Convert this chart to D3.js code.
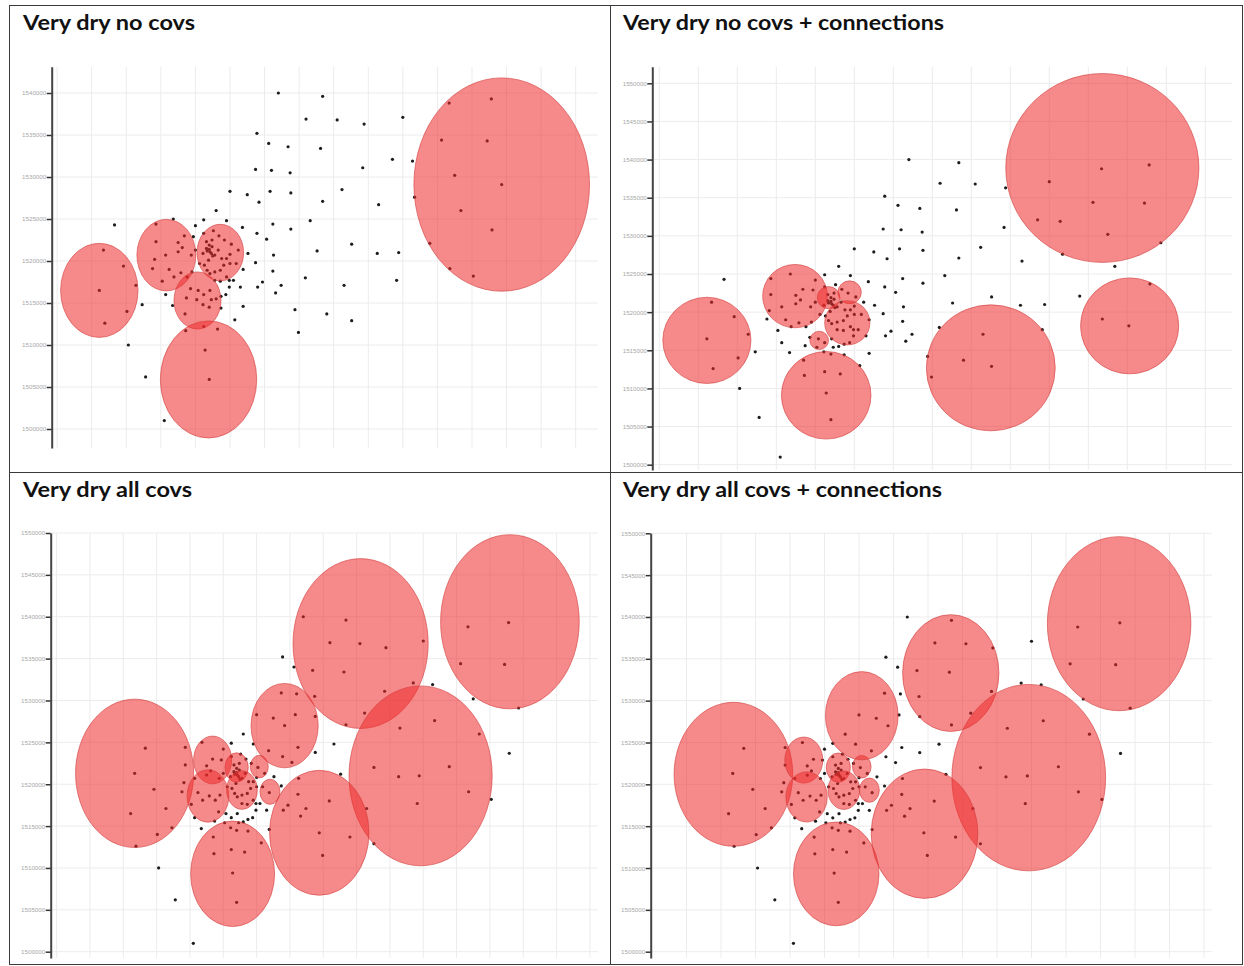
<!DOCTYPE html>
<html>
<head>
<meta charset="utf-8">
<script src="https://cdn.jsdelivr.net/npm/d3@7"></script>
<style>
  body { margin: 0; background: #fff; }
  svg { display: block; }
</style>
</head>
<body>
<svg id="chart" width="1244" height="966"></svg>
<script>
// Plot locations (easting, northing in metres), shared by all four maps
const plots = [
  [327000,1540000],[333400,1539600],[331000,1536900],[335500,1536800],[339400,1536300],
  [345000,1537100],[323900,1535200],[325600,1534000],[328400,1533600],[333100,1533400],
  [343500,1532100],[346400,1531900],[339200,1531100],[323700,1530900],[326000,1530800],
  [328700,1530500],[320000,1528300],[322500,1527900],[325800,1528300],[328800,1528100],
  [324200,1527000],[333400,1527100],[336200,1528500],[341500,1526700],[346700,1527600],
  [318000,1526000],[316200,1524900],[319500,1524800],[311800,1525000],[315000,1524200],
  [303300,1524300],[326200,1524400],[328800,1523800],[331600,1524800],[321800,1524000],
  [323900,1523300],[325300,1522600],[332600,1521200],[337600,1522000],[341300,1520900],
  [344400,1521000],[322600,1520900],[323700,1519800],[326300,1520700],[326200,1518800],
  [324700,1517500],[324000,1516900],[321500,1516900],[321900,1519000],[327400,1517100],
  [326600,1516200],[330900,1518000],[336500,1517100],[344100,1517700],[329400,1514200],
  [334000,1513700],[337600,1512900],[329900,1511500],[321900,1514600],[320700,1513000],
  [307300,1514800],[305300,1510000],[307800,1506200],[310500,1501000],[316400,1509400],
  [317000,1505900],[313600,1511700],[316200,1512200],[318200,1511900],[313500,1513700],
  [311700,1514700],[310700,1516000],[301700,1521300],[304600,1519400],[306400,1517100],
  [301100,1516500],[305100,1514000],[301900,1512600],[309300,1524400],[309300,1522300],
  [310700,1520700],[309100,1520200],[308800,1519100],[311200,1519000],[312500,1521100],
  [313100,1521600],[313400,1523000],[310200,1517600],[311900,1518100],[312900,1518600],
  [313800,1518100],[314500,1518700],[314400,1520700],[315000,1521300],[314700,1522900],
  [312500,1522200],[316200,1523300],[317600,1523600],[318400,1523000],[319200,1522500],
  [320200,1522000],[321200,1521300],[320000,1520800],[320900,1519700],[320000,1519700],
  [319100,1519500],[318600,1518900],[317800,1518700],[317100,1518500],[316700,1518900],
  [316300,1519500],[315600,1519700],[316100,1520900],[316600,1521500],[317000,1521900],
  [317300,1520900],[316900,1520100],[317800,1520700],[318300,1521300],[318800,1520300],
  [319500,1520300],[317400,1522500],[316600,1522300],[317800,1517700],[318600,1517600],
  [319500,1518100],[319900,1517700],[320500,1517700],[317000,1521400],[317400,1521700],
  [317100,1521100],[316700,1521200],[317500,1520600],[319900,1516900],[319400,1516000],
  [318700,1515800],[317100,1516500],[315400,1516500],[314300,1516700],[313700,1515600],
  [315200,1515400],[316200,1516000],[317300,1515400],[318000,1515500],[316100,1514800],
  [317000,1514500],[318700,1514400],[351700,1538800],[357800,1539300],[350600,1534400],
  [357200,1534300],[352500,1530200],[359300,1529100],[353400,1526000],[357900,1523700],
  [348900,1522100],[351800,1519100],[355200,1518200]
];

// Cluster circles: [centre easting, centre northing, radius] in metres
const clustersNoCovs = [
  [301100,1516500,5600],[310800,1520700,4260],[318600,1521000,3370],
  [315300,1515300,3400],[316900,1505900,6970],[359300,1529100,12700]
];
const clustersNoCovsConn = [
  [301100,1516300,5650],[312400,1522100,4150],[319400,1522600,1500],
  [316700,1521900,1450],[319100,1518600,2900],[315500,1516300,1200],
  [316400,1509100,5740],[337500,1512700,8260],[351800,1538900,12380],
  [355300,1518200,6290]
];
const clustersAllCovs = [
  [301700,1521300,8860],[313400,1522900,2850],[312700,1518600,3130],
  [317000,1522000,1750],[320400,1522100,1350],[322000,1519100,1500],
  [317800,1519300,2300],[324200,1527000,5040],[335600,1536800,10140],
  [358000,1539400,10400],[344600,1521000,10740],[329400,1514200,7460],
  [316400,1509300,6300]
];
const clustersAllCovsConn = [
  [301800,1521200,8600],[312000,1522900,2750],[312400,1518500,3000],
  [317000,1522000,1750],[320400,1522100,1350],[321500,1519300,1450],
  [317800,1519300,2300],[320400,1528200,5270],[333300,1533300,6980],
  [357700,1539200,10400],[344600,1520800,11140],[329500,1514100,7730],
  [316700,1509300,6200]
];

const northingTicks = [1500000,1505000,1510000,1515000,1520000,1525000,1530000,1535000,1540000,1545000,1550000];
const panelTitles = ["Very dry no covs", "Very dry no covs + connections", "Very dry all covs", "Very dry all covs + connections"];
const gridStep = 5000;

// Layout of the four cells of the table
const panels = [
  { title: panelTitles[0], clusters: clustersNoCovs, tx: 23, ty: 30, tw: 172,
    axisX: 51.7, top: 66.7, bottom: 448, right: 598, maxTick: 1540000,
    yTopPx: 93, yBotPx: 429, gx0: 91.7, gdx: 34.57 },
  { title: panelTitles[1], clusters: clustersNoCovsConn, tx: 623, ty: 30, tw: 321,
    axisX: 652.3, top: 66.7, bottom: 470, right: 1232, maxTick: 1550000,
    yTopPx: 83.3, yBotPx: 464.7, gx0: 698.3, gdx: 39.0 },
  { title: panelTitles[2], clusters: clustersAllCovs, tx: 23, ty: 497, tw: 169,
    axisX: 50.7, top: 533, bottom: 958, right: 598, maxTick: 1550000,
    yTopPx: 533, yBotPx: 951.7, gx0: 123.3, gdx: 33.33 },
  { title: panelTitles[3], clusters: clustersAllCovsConn, tx: 623, ty: 497, tw: 319,
    axisX: 650.7, top: 533.3, bottom: 958, right: 1212, maxTick: 1550000,
    yTopPx: 533.3, yBotPx: 951.7, gx0: 721, gdx: 34.5 }
];

const svg = d3.select("#chart");
const eastOrigin = 300000;

panels.forEach(p => {
  const g = svg.append("g");

  const y0 = d3.scaleLinear().domain([1500000, p.maxTick]).range([p.yBotPx, p.yTopPx]);
  const y = d3.scaleLinear().domain([y0.invert(p.bottom), y0.invert(p.top)]).range([p.bottom, p.top]);
  const x0 = d3.scaleLinear().domain([eastOrigin, eastOrigin + gridStep]).range([p.gx0, p.gx0 + p.gdx]);
  const x = d3.scaleLinear().domain([x0.invert(p.axisX), x0.invert(p.right)]).range([p.axisX, p.right]);

  const ticks = northingTicks.filter(t => t <= p.maxTick);
  const [xa, xb] = x.domain();
  const eastLines = d3.range(Math.ceil((xa - eastOrigin) / gridStep), Math.floor((xb - eastOrigin) / gridStep) + 1)
    .map(k => eastOrigin + k * gridStep)
    .filter(v => x(v) - p.axisX > 3);

  // grid
  const grid = g.append("g").attr("stroke", "#ececec").attr("stroke-width", 1);
  grid.selectAll("line.v").data(eastLines).join("line")
    .attr("x1", d => x(d)).attr("x2", d => x(d))
    .attr("y1", p.top).attr("y2", p.bottom);
  grid.selectAll("line.h").data(ticks).join("line")
    .attr("x1", p.axisX).attr("x2", p.right)
    .attr("y1", d => y(d)).attr("y2", d => y(d));

  // plot locations (under the cluster circles)
  g.append("g").selectAll("circle").data(plots).join("circle")
    .attr("cx", d => x(d[0])).attr("cy", d => y(d[1]))
    .attr("r", 1.6).attr("fill", "#1c1c1c");

  // cluster circles
  g.append("g").selectAll("ellipse").data(p.clusters).join("ellipse")
    .attr("cx", d => x(d[0])).attr("cy", d => y(d[1]))
    .attr("rx", d => x(d[0] + d[2]) - x(d[0]))
    .attr("ry", d => y(d[1] - d[2]) - y(d[1]))
    .attr("fill", "#ee2a2a").attr("fill-opacity", 0.55)
    .attr("stroke", "#d23c3c").attr("stroke-opacity", 0.6).attr("stroke-width", 1);

  // northing axis
  const axis = g.append("g")
    .attr("transform", `translate(${p.axisX},0)`)
    .call(d3.axisLeft(y).tickValues(ticks).tickSize(5).tickSizeOuter(0).tickFormat(d3.format("d")));
  axis.select(".domain").attr("stroke", "#444").attr("stroke-width", 2);
  axis.selectAll(".tick line").attr("stroke", "#333").attr("stroke-width", 1.5);
  axis.selectAll(".tick text").attr("fill", "#a8a8a8").attr("font-size", 6.2)
    .attr("font-family", "Liberation Sans, Arial, sans-serif").attr("x", -5.5);

  // title
  g.append("text").attr("x", p.tx).attr("y", p.ty)
    .attr("font-family", "Lato, 'Open Sans', sans-serif").attr("font-weight", 700)
    .attr("font-size", 20).attr("fill", "#111")
    .attr("textLength", p.tw).attr("lengthAdjust", "spacingAndGlyphs")
    .text(p.title);
});

// table borders
const borders = svg.append("g").attr("stroke", "#3a3a3a").attr("stroke-width", 1).attr("fill", "none");
borders.append("rect").attr("x", 9.5).attr("y", 5.5).attr("width", 1233).attr("height", 959);
borders.append("line").attr("x1", 610.5).attr("x2", 610.5).attr("y1", 5.5).attr("y2", 964.5);
borders.append("line").attr("x1", 9.5).attr("x2", 1242.5).attr("y1", 472.5).attr("y2", 472.5);
</script>
</body>
</html>
